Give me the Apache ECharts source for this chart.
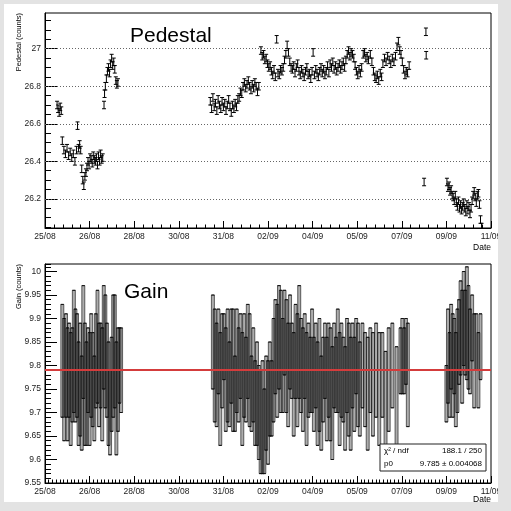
<!DOCTYPE html>
<html><head><meta charset="utf-8">
<script src="https://cdn.jsdelivr.net/npm/echarts@6/dist/echarts.min.js"></script>
<style>html,body{margin:0;padding:0;background:#e3e3e3}#c{width:511px;height:511px}</style>
</head><body><div id="c"></div>
<script>
// ---- tick labels (time axis: days since 25/08 00:00) ----
const xTickLabels = ['25/08','26/08','28/08','30/08','31/08','02/09','04/09','05/09','07/09','09/09','11/09'];
const pedMajorTicks = [26.2, 26.4, 26.6, 26.8, 27.0];
const pedMinorTicks = [26.05,26.10,26.15,26.20,26.25,26.30,26.35,26.40,26.45,26.50,26.55,26.60,26.65,26.70,26.75,26.80,26.85,26.90,26.95,27.00,27.05,27.10,27.15];

// ---- Pedestal ----
const pedTime = [
  0.46,0.50,0.54,0.58,0.62,
  0.66,0.72,0.78,0.84,0.90,0.96,1.02,1.08,1.14,1.20,1.24,1.28,1.32,1.36,
  1.40,1.44,1.48,1.52,1.56,1.60,
  1.64,1.68,1.72,1.76,1.80,1.84,1.88,1.92,1.96,2.00,2.04,2.08,2.12,2.16,2.20,
  2.25,2.27,2.30,2.34,2.38,2.42,2.46,2.50,2.54,2.58,2.62,2.66,2.70,2.74,2.78,
  6.30,6.35,6.40,6.45,6.50,6.55,6.60,6.65,6.70,6.75,6.80,6.85,6.90,6.95,7.00,7.05,7.10,7.15,7.20,7.25,7.30,7.35,
  7.40,7.45,7.50,
  7.55,7.60,7.65,7.70,7.75,7.80,7.85,7.90,7.95,8.00,8.05,8.10,8.15,
  8.23,8.28,8.33,8.38,8.43,8.48,8.53,
  8.58,8.63,8.68,8.73,8.78,8.83,8.88,8.93,8.98,9.03,9.08,9.13,9.18,9.23,9.28,9.33,
  9.38,9.43,9.48,9.53,9.58,9.63,9.68,9.73,9.78,9.83,9.88,9.93,9.98,10.03,10.08,10.13,10.18,10.22,10.27,10.32,10.37,10.42,10.47,10.52,10.57,10.62,10.67,10.72,10.77,10.82,
  10.87,10.92,10.97,11.02,11.07,11.12,11.17,11.22,11.27,11.32,11.37,11.42,11.47,
  11.52,11.57,11.62,11.67,11.72,11.77,
  11.82,11.87,11.92,11.97,12.02,12.07,
  12.13,12.18,12.23,12.28,12.33,12.40,12.46,
  12.52,12.57,12.62,12.67,12.72,12.78,12.83,
  12.88,12.94,13.00,13.06,13.12,13.18,13.24,13.30,13.36,
  13.42,13.47,13.52,13.57,
  13.62,13.67,13.72,13.77,13.82,13.88,
  14.45,14.52,14.53,
  15.32,15.36,15.40,15.44,15.48,15.52,15.56,15.60,15.64,15.68,15.72,15.76,15.80,15.84,15.88,15.92,15.96,16.00,16.04,16.08,16.12,16.16,16.20,16.24,16.28,16.32,16.36,16.40,16.44,16.48,16.52,16.56,16.60,16.64
];
const pedValue = [
  26.70,26.68,26.66,26.69,26.67,
  26.51,26.46,26.44,26.47,26.43,26.45,26.42,26.44,26.40,26.46,26.59,26.47,26.49,26.46,
  26.36,26.30,26.27,26.32,26.34,26.37,
  26.40,26.38,26.42,26.41,26.39,26.43,26.41,26.40,26.42,26.38,26.43,26.40,26.44,26.41,26.42,
  26.70,26.76,26.80,26.84,26.88,26.90,26.87,26.92,26.95,26.91,26.93,26.89,26.83,26.81,26.82,
  26.72,26.68,26.74,26.69,26.71,26.67,26.73,26.70,26.68,26.72,26.69,26.71,26.67,26.70,26.73,26.69,26.66,26.70,26.68,26.71,26.69,26.73,
  26.74,26.77,26.76,
  26.80,26.82,26.79,26.81,26.83,26.80,26.78,26.81,26.79,26.82,26.80,26.77,26.80,
  26.99,26.96,26.97,26.94,26.95,26.92,26.90,
  26.91,26.88,26.86,26.89,26.85,27.05,26.87,26.86,26.89,26.88,26.90,26.94,26.97,27.02,26.98,26.93,
  26.90,26.89,26.91,26.87,26.90,26.92,26.88,26.86,26.89,26.87,26.85,26.88,26.90,26.86,26.87,26.84,26.88,26.98,26.86,26.89,26.87,26.85,26.88,26.90,26.87,26.89,26.86,26.88,26.91,26.87,
  26.92,26.90,26.93,26.89,26.91,26.88,26.90,26.92,26.89,26.91,26.93,26.90,26.94,
  26.97,26.99,26.96,26.98,26.97,26.95,
  26.91,26.88,26.86,26.89,26.87,26.90,
  26.97,26.98,26.95,26.96,26.94,26.97,26.93,
  26.88,26.85,26.84,26.86,26.83,26.87,26.85,
  26.92,26.95,26.93,26.96,26.94,26.92,26.95,26.93,26.96,
  27.01,27.04,26.99,26.97,
  26.93,26.89,26.86,26.88,26.87,26.91,
  26.29,27.09,26.965,
  26.29,26.26,26.27,26.24,26.25,26.22,26.21,26.19,26.22,26.18,26.16,26.19,26.15,26.17,26.14,26.16,26.18,26.15,26.13,26.17,26.14,26.16,26.12,26.15,26.19,26.22,26.24,26.21,26.18,26.22,26.23,26.17,26.09,26.05
];
const pedError = 0.02;

// ---- Gain ----
const gainTime = [
  0.66,0.73,0.80,0.86,0.92,0.98,1.04,1.10,1.16,1.22, 1.28,1.34,1.40,1.46,1.52,1.58,1.64,1.70,1.76,1.82,
  1.88,1.94,2.00,2.06,2.12,2.18,2.24,2.30,2.36,2.42, 2.48,2.54,2.60,2.66,2.72,2.78,2.84,2.90,
  6.40,6.47,6.54,6.61,6.68,6.75,6.82,6.89,6.96,7.03, 7.10,7.17,7.24,7.31,7.38,7.45,7.52,7.59,7.66,7.73,
  7.80,7.87,7.94,8.01,8.08,8.15,8.22,8.29,8.36,8.43, 8.50,8.57,8.64,8.71,8.78,8.85,8.92,8.99,9.06,9.13,
  9.20,9.27,9.34,9.41,9.48,9.55,9.62,9.69,9.76,9.83, 9.90,9.97,10.04,10.11,10.18,10.25,10.32,10.39,10.46,10.53,
  10.60,10.67,10.74,10.81,10.88,10.95,11.02,11.09,11.16,11.23, 11.30,11.37,11.44,11.51,11.58,11.65,11.72,11.79,11.86,11.93,
  12.00,12.10,12.20,12.30,12.40,12.50,12.62,12.74,12.86,12.98, 13.10,13.24,13.40,13.55,13.62,13.69,13.76,13.83,
  15.30,15.36,15.42,15.48,15.54,15.60,15.66,15.72,15.78,15.84, 15.90,15.96,16.02,16.08,16.14,16.20,16.28,16.36,16.44,16.52, 16.60
];
const gainValue = [
  9.81,9.77,9.80,9.76,9.79,9.75,9.78,9.83,9.80,9.80, 9.74,9.77,9.72,9.85,9.76,9.74,9.79,9.75,9.80,9.77,
  9.73,9.81,9.84,9.78,9.80,9.76,9.86,9.83,9.79,9.74, 9.70,9.76,9.82,9.83,9.73,9.77,9.80,9.79,
  9.85,9.80,9.78,9.83,9.75,9.81,9.84,9.77,9.80,9.76, 9.82,9.79,9.74,9.81,9.78,9.82,9.75,9.80,9.77,9.83,
  9.79,9.74,9.78,9.72,9.74,9.70,9.68,9.69,9.66,9.72, 9.70,9.75,9.73,9.79,9.84,9.81,9.86,9.83,9.80,9.87,
  9.82,9.78,9.85,9.81,9.76,9.83,9.79,9.85,9.80,9.77, 9.82,9.75,9.79,9.78,9.81,9.76,9.80,9.74,9.78,9.72,
  9.77,9.81,9.75,9.79,9.76,9.72,9.80,9.78,9.81,9.75, 9.79,9.77,9.73,9.80,9.77,9.74,9.80,9.76,9.82,9.78,
  9.75,9.80,9.77,9.74,9.79,9.76,9.79,9.75,9.78,9.73, 9.77,9.80,9.72,9.81,9.82,9.81,9.83,9.78,
  9.74,9.82,9.78,9.84,9.80,9.82,9.77,9.81,9.85,9.88, 9.84,9.90,9.87,9.89,9.86,9.83,9.88,9.81,9.85,9.79, 9.84
];
const gainError = [
  .12,.13,.11,.12,.10,.12,.10,.13,.12,.11, .11,.12,.10,.12,.13,.11,.09,.12,.11,.10,
  .09,.10,.12,.11,.09,.12,.11,.12,.10,.11, .09,.10,.13,.12,.12,.11,.08,.09,
  .10,.12,.11,.09,.12,.10,.07,.11,.12,.09, .10,.13,.08,.11,.10,.09,.12,.11,.09,.10,
  .12,.08,.10,.09,.11,.10,.11,.12,.09,.10, .11,.10,.08,.11,.10,.12,.11,.13,.10,.09,
  .12,.11,.10,.08,.11,.10,.12,.12,.10,.11, .09,.12,.10,.08,.11,.10,.09,.11,.12,.10,
  .09,.08,.11,.10,.12,.12,.09,.08,.11,.12, .10,.09,.11,.10,.12,.12,.09,.10,.08,.11,
  .10,.09,.10,.12,.09,.11,.10,.12,.09,.10, .11,.09,.12,.07,.08,.07,.07,.11,
  .06,.10,.09,.09,.11,.08,.10,.11,.09,.10, .12,.10,.09,.12,.11,.09,.07,.10,.06,.08, .07
];
const fitValue = 9.785;
const statRows = [['\u03c7\u00b2 / ndf', '188.1 / 250'], ['p0', '9.785 \u00b1 0.004068']];

// ---- chart ----
const FONT = 'Liberation Sans';
const X_STEP = 1.7;
const pedData = pedTime.slice(0, Math.min(pedTime.length, pedValue.length)).map((t, i) => [t, pedValue[i], pedError]);
const n = Math.min(gainTime.length, gainValue.length, gainError.length);
const gainData = gainTime.slice(0, n).map((t, i) => [t, gainValue[i], gainError[i]]);
const numFmt = v => String(parseFloat(Number(v).toFixed(3)));

function xAxis(gridIndex, minorSplit) {
  return {
    type: 'value', gridIndex, min: 0, max: 17, interval: X_STEP,
    axisLine: {show: true, onZero: false, lineStyle: {color: '#000', width: 1}},
    axisTick: {show: true, inside: true, length: 7, lineStyle: {color: '#000'}},
    minorTick: {show: true, splitNumber: minorSplit, length: 3.5, lineStyle: {color: '#000'}},
    splitLine: {show: false},
    axisLabel: {fontFamily: FONT, fontSize: 8.5, color: '#222', margin: 4, showMinLabel: true, showMaxLabel: true,
      formatter: v => { const k = Math.round(v / X_STEP); return xTickLabels[k] || ''; }}
  };
}
const labelStyle = {fontFamily: FONT, fontSize: 8.5, color: '#222', margin: 4};

const option = {
  animation: false,
  backgroundColor: '#e3e3e3',
  grid: [
    {left: 45, top: 13, width: 446, height: 215, show: true, backgroundColor: '#fff', borderColor: '#000', borderWidth: 1},
    {left: 45, top: 264, width: 446, height: 219, show: true, backgroundColor: '#fff', borderColor: '#000', borderWidth: 1}
  ],
  xAxis: [xAxis(0, 5), xAxis(1, 12)],
  yAxis: [
    {type: 'value', gridIndex: 0, min: 26.045, max: 27.19, position: 'left',
      axisLine: {show: true, onZero: false, lineStyle: {color: '#000'}},
      axisTick: {show: true, inside: true, length: 12, customValues: pedMajorTicks, lineStyle: {color: '#000'}},
      axisLabel: Object.assign({customValues: pedMajorTicks, formatter: numFmt}, labelStyle),
      splitLine: {show: false}},
    {type: 'value', gridIndex: 0, min: 26.045, max: 27.19, position: 'left',
      axisLine: {show: false}, axisLabel: {show: false}, splitLine: {show: false},
      axisTick: {show: true, inside: true, length: 6, customValues: pedMinorTicks, lineStyle: {color: '#000'}}},
    {type: 'value', gridIndex: 1, min: 9.55, max: 10.016, interval: 0.05, position: 'left',
      axisLine: {show: true, onZero: false, lineStyle: {color: '#000'}},
      axisTick: {show: true, inside: true, length: 12, lineStyle: {color: '#000'}},
      axisLabel: Object.assign({showMinLabel: true, showMaxLabel: false, formatter: numFmt}, labelStyle),
      splitLine: {show: false}},
    {type: 'value', gridIndex: 1, min: 9.55, max: 10.016, interval: 0.01, position: 'left',
      axisLine: {show: false}, axisLabel: {show: false}, splitLine: {show: false},
      axisTick: {show: true, inside: true, length: 6, lineStyle: {color: '#000'}}}
  ],
  series: [
    {type: 'custom', name: 'Pedestal', xAxisIndex: 0, yAxisIndex: 0, clip: true, data: pedData, z: 3,
      renderItem: (params, api) => {
        const x = api.value(0), v = api.value(1), e = api.value(2);
        const t = api.coord([x, v + e]), b = api.coord([x, v - e]);
        const w = 2, st = {stroke: '#000', lineWidth: 1};
        return {type: 'group', children: [
          {type: 'line', shape: {x1: t[0], y1: t[1], x2: b[0], y2: b[1]}, style: st},
          {type: 'line', shape: {x1: t[0] - w, y1: t[1], x2: t[0] + w, y2: t[1]}, style: st},
          {type: 'line', shape: {x1: b[0] - w, y1: b[1], x2: b[0] + w, y2: b[1]}, style: st}
        ]};
      },
      markLine: {silent: true, symbol: 'none', label: {show: false}, z: 1,
        lineStyle: {color: '#666', width: 1, type: [1, 2]},
        data: pedMajorTicks.map(v => ({yAxis: v}))}},
    {type: 'custom', name: 'Gain', xAxisIndex: 1, yAxisIndex: 2, clip: true, data: gainData, z: 3,
      renderItem: (params, api) => {
        const x = api.value(0), v = api.value(1), e = api.value(2);
        const t = api.coord([x, v + e]), b = api.coord([x, v - e]);
        const w = 1.5, st = {stroke: '#111', lineWidth: 1};
        return {type: 'group', children: [
          {type: 'rect', shape: {x: t[0] - w, y: t[1], width: 2 * w, height: b[1] - t[1]},
            style: {fill: 'rgba(40,40,40,0.38)', stroke: 'rgba(0,0,0,0.72)', lineWidth: 0.8}},
          {type: 'line', shape: {x1: t[0] - w, y1: t[1], x2: t[0] + w, y2: t[1]}, style: st},
          {type: 'line', shape: {x1: b[0] - w, y1: b[1], x2: b[0] + w, y2: b[1]}, style: st}
        ]};
      },
      markLine: {silent: true, symbol: 'none', label: {show: false},
        lineStyle: {color: '#d43c3c', width: 2, type: 'solid'}, data: [{yAxis: fitValue}]}}
  ],
  graphic: [
    {type: 'rect', z: -10, shape: {x: 4, y: 4, width: 494, height: 498}, style: {fill: '#fff'}},
    {type: 'text', z: 50, x: 130, y: 36, style: {text: 'Pedestal', fontFamily: FONT, fontSize: 21, fill: '#000', textAlign: 'left', align: 'left', textVerticalAlign: 'middle', verticalAlign: 'middle'}},
    {type: 'text', z: 50, x: 124, y: 292, style: {text: 'Gain', fontFamily: FONT, fontSize: 21, fill: '#000', textAlign: 'left', align: 'left', textVerticalAlign: 'middle', verticalAlign: 'middle'}},
    {type: 'text', z: 50, x: 19, y: 13, rotation: Math.PI / 2, style: {text: 'Pedestal (counts)', fontFamily: FONT, fontSize: 7.5, fill: '#000', textAlign: 'right', align: 'right', textVerticalAlign: 'middle', verticalAlign: 'middle'}},
    {type: 'text', z: 50, x: 19, y: 264, rotation: Math.PI / 2, style: {text: 'Gain (counts)', fontFamily: FONT, fontSize: 7.5, fill: '#000', textAlign: 'right', align: 'right', textVerticalAlign: 'middle', verticalAlign: 'middle'}},
    {type: 'text', z: 50, x: 491, y: 248, style: {text: 'Date', fontFamily: FONT, fontSize: 8.5, fill: '#000', textAlign: 'right', align: 'right', textVerticalAlign: 'middle', verticalAlign: 'middle'}},
    {type: 'text', z: 50, x: 491, y: 500, style: {text: 'Date', fontFamily: FONT, fontSize: 8.5, fill: '#000', textAlign: 'right', align: 'right', textVerticalAlign: 'middle', verticalAlign: 'middle'}},
    {type: 'rect', z: 50, shape: {x: 380, y: 444, width: 106, height: 27}, style: {fill: '#fff', stroke: '#222', lineWidth: 1}},
    {type: 'text', z: 51, x: 384, y: 451, style: {text: statRows[0][0], fontFamily: FONT, fontSize: 8, fill: '#000', textAlign: 'left', align: 'left', textVerticalAlign: 'middle', verticalAlign: 'middle'}},
    {type: 'text', z: 51, x: 482, y: 451, style: {text: statRows[0][1], fontFamily: FONT, fontSize: 8, fill: '#000', textAlign: 'right', align: 'right', textVerticalAlign: 'middle', verticalAlign: 'middle'}},
    {type: 'text', z: 51, x: 384, y: 464, style: {text: statRows[1][0], fontFamily: FONT, fontSize: 8, fill: '#000', textAlign: 'left', align: 'left', textVerticalAlign: 'middle', verticalAlign: 'middle'}},
    {type: 'text', z: 51, x: 482, y: 464, style: {text: statRows[1][1], fontFamily: FONT, fontSize: 8, fill: '#000', textAlign: 'right', align: 'right', textVerticalAlign: 'middle', verticalAlign: 'middle'}},
    {type: 'rect', z: 100, shape: {x: 498, y: 0, width: 13, height: 511}, style: {fill: '#e3e3e3'}},
    {type: 'rect', z: 100, shape: {x: 0, y: 504, width: 511, height: 7}, style: {fill: '#e3e3e3'}}
  ]
};
const chart = echarts.init(document.getElementById('c'), null, {renderer: 'canvas'});
chart.setOption(option);
</script>
</body></html>
